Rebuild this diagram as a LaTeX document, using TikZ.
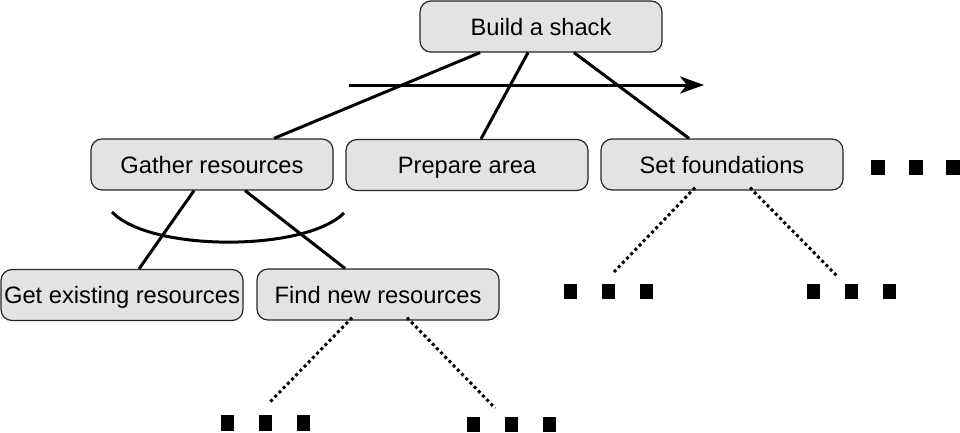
\documentclass[tikz,border=0pt]{standalone}
\usepackage{fontspec}
\setmainfont{Liberation Sans}
\usetikzlibrary{arrows.meta}
\begin{document}
\begin{tikzpicture}[x=1pt,y=-1pt,
  box/.style={draw=black!85,line width=1.2pt,fill=black!11,rounded corners=11pt,
    minimum width=242pt,minimum height=51pt,inner sep=0pt,
    text height=22pt,text depth=5pt,
    font=\fontsize{23.7}{28}\selectfont},
  link/.style={line width=3pt},
  dots/.style={line width=3pt,dash pattern=on 3pt off 3pt},
  sq/.style={fill=black}]
\useasboundingbox (0,0) rectangle (960,432);
\node[box] (build)   at (541,26.5) {Build a shack};
\node[box] (gather)  at (212,164.5) {Gather resources};
\node[box] (prepare) at (467,165) {Prepare area};
\node[box] (setf)    at (722,164.5) {Set foundations};
\node[box] (get)     at (122,295) {Get existing resources};
\node[box] (find)    at (378,294.5) {Find new resources};
% tree links
\draw[link] ([xshift=-61pt]build.south) -- ([xshift=62pt]gather.north);
\draw[link] ([xshift=-13pt]build.south) -- ([xshift=14pt]prepare.north);
\draw[link] ([xshift=33pt]build.south) -- ([xshift=-33pt]setf.north);
\draw[link] ([xshift=-18pt]gather.south) -- ([xshift=17pt]get.north);
\draw[link] ([xshift=33pt]gather.south) -- ([xshift=-33pt]find.north);
% arrow
\coordinate (a1) at (349,85);
\coordinate (a2) at (704,85);
\draw[link,-{Stealth[length=24pt,width=17pt,inset=7pt]}] (a1) -- (a2);
% arc
\coordinate (c1) at (112,212);
\coordinate (c2) at (344,213);
\draw[line width=3pt] (c1) .. controls (150,252) and (305,252) .. (c2);
% dotted continuations
\coordinate (d1) at (614,272);
\coordinate (d2) at (838,277);
\coordinate (d3) at (270,402);
\coordinate (d4) at (495,408);
\draw[dots] ([xshift=-27pt,yshift=3pt]setf.south) -- (d1);
\draw[dots] ([xshift=28pt,yshift=3pt]setf.south) -- (d2);
\draw[dots] ([xshift=-26pt,yshift=3pt]find.south) -- (d3);
\draw[dots] ([xshift=29pt,yshift=3pt]find.south) -- (d4);
% ellipsis squares
\foreach \x in {871,909,946} \fill[sq] (\x,160) rectangle ++(14,15);
\foreach \x in {564,602,640} \fill[sq] (\x,284) rectangle ++(13,15);
\foreach \x in {807,845,883} \fill[sq] (\x,284) rectangle ++(13,15);
\foreach \x in {221,259,297} \fill[sq] (\x,415) rectangle ++(13,16);
\foreach \x in {467,505,543} \fill[sq] (\x,417) rectangle ++(13,15);
\end{tikzpicture}
\end{document}
